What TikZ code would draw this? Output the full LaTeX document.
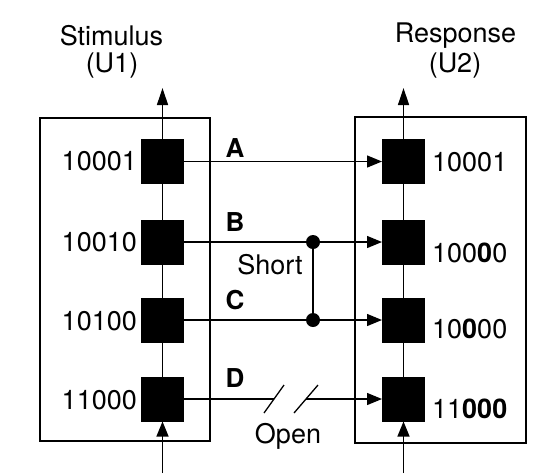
\documentclass[tikz,border=0pt]{standalone}
\usepackage{fontspec}
\setmainfont{TeX Gyre Heros}
\usetikzlibrary{arrows.meta,calc}
\begin{document}
\begin{tikzpicture}[x=1pt,y=-1pt,
  cell/.style={fill=black,draw=none,minimum width=43pt,minimum height=45pt,inner sep=0pt,outer sep=0pt},
  wire/.style={line width=1.3pt},
  arr/.style={wire,-{Triangle[length=15pt,width=12pt]}},
  uparr/.style={wire,-{Triangle[length=17pt,width=11pt]}},
  lbl/.style={font=\fontsize{27}{30}\selectfont,inner sep=0pt},
  sig/.style={font=\fontsize{26}{28}\selectfont\bfseries,inner sep=0pt},
  dot/.style={circle,fill=black,minimum size=14pt,inner sep=0pt},
  frame/.style={draw,line width=1.3pt,inner sep=0pt}]
\useasboundingbox (0,0) rectangle (540,475);
% frames
\node[frame,minimum width=170pt,minimum height=323pt] (U1) at (125,279.5) {};
\node[frame,minimum width=171pt,minimum height=326pt] (U2) at (440.5,280) {};
% titles
\node[lbl] (t1) at (111.5,36) {Stimulus};
\node[lbl] (t1b) at (112,66) {(U1)};
\node[lbl] (t2) at (455.5,36) {Response};
\node[lbl] (t2b) at (455,66) {(U2)};
% cells
\node[cell] (l1) at (162.5,161.5) {};
\node[cell] (l2) at (162.5,242) {};
\node[cell] (l3) at (162.5,320) {};
\node[cell] (l4) at (162.5,399) {};
\node[cell] (r1) at (403.5,161.5) {};
\node[cell] (r2) at (403.5,242) {};
\node[cell] (r3) at (403.5,320) {};
\node[cell] (r4) at (403.5,399) {};
% vertical chains
\coordinate (lbot) at (162.5,473);
\coordinate (ltop) at (162.5,88);
\coordinate (rbot) at (403.5,473);
\coordinate (rtop) at (403.5,88);
\draw[arr] (lbot) -- (l4.south);
\draw[wire] (l4.north) -- (l3.south) (l3.north) -- (l2.south) (l2.north) -- (l1.south);
\draw[uparr] (l1.north) -- (ltop);
\draw[arr] (rbot) -- (r4.south);
\draw[wire] (r4.north) -- (r3.south) (r3.north) -- (r2.south) (r2.north) -- (r1.south);
\draw[uparr] (r1.north) -- (rtop);
% left labels
\node[lbl,anchor=east] (la) at (137,161.5) {10001};
\node[lbl,anchor=east] (lb) at (137,242) {10010};
\node[lbl,anchor=east] (lc) at (137,321) {10100};
\node[lbl,anchor=east] (ld) at (137,400) {11000};
% right labels
\node[lbl,anchor=west] (ra) at (432,162) {10001};
\node[lbl,anchor=west] (rb) at (432,253) {100\textbf{0}0};
\node[lbl,anchor=west] (rc) at (432,329) {10\textbf{0}00};
\node[lbl,anchor=west] (rd) at (432,409) {11\textbf{000}};
% connections
\draw[arr] (l1.east) -- (r1.west);
\draw[arr] (l2.east) -- (r2.west);
\draw[arr] (l3.east) -- (r3.west);
\node[dot] (sb) at (313,242) {};
\node[dot] (sc) at (313,320) {};
\draw[wire] (sb) -- (sc);
\coordinate (d1) at (274,399);
\coordinate (d2) at (306,399);
\draw[wire] (l4.east) -- (d1);
\draw[arr] (d2) -- (r4.west);
\draw[wire] ($(d1)+(-10,14)$) -- ($(d1)+(10,-14)$);
\draw[wire] ($(d2)+(-12,14)$) -- ($(d2)+(12,-14)$);
% signal letters
\node[sig] (sa) at (235,148) {A};
\node[sig] (sbl) at (235,222) {B};
\node[sig] (scl) at (235,300) {C};
\node[sig] (sdl) at (235,378) {D};
\node[lbl] (short) at (270,265) {Short};
\node[lbl] (open) at (288,436) {Open};
\end{tikzpicture}
\end{document}
